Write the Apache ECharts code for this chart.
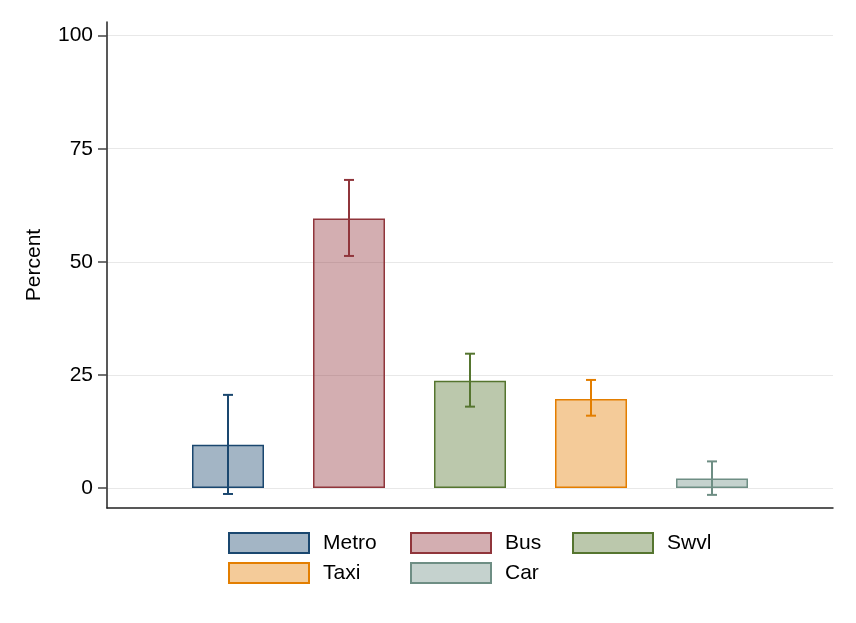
<!DOCTYPE html>
<html>
<head>
<meta charset="utf-8">
<script src="https://cdn.jsdelivr.net/npm/echarts@6/dist/echarts.min.js"></script>
<style>
  html, body { margin: 0; padding: 0; background: #fff; }
  #main { width: 856px; height: 623px; }
</style>
</head>
<body>
<div id="main"></div>
<script>
// data
var modes = ['Metro', 'Bus', 'Swvl', 'Taxi', 'Car'];
var positions = [1, 2, 3, 4, 5];
var percent = [9.6, 59.6, 23.7, 19.7, 2.1];
var ciLow = [-1.3, 51.3, 18.0, 16.0, -1.5];
var ciHigh = [20.6, 68.1, 29.7, 23.9, 5.9];
var yTicks = [0, 25, 50, 75, 100];

// stata s2color-ish palette
var strokes = ['#1a476f', '#90353b', '#55752f', '#e37e00', '#6e8e84'];
var fills = ['rgba(26,71,111,0.4)', 'rgba(144,53,59,0.4)', 'rgba(85,117,47,0.4)',
             'rgba(227,126,0,0.4)', 'rgba(110,142,132,0.4)'];

var chart = echarts.init(document.getElementById('main'));
var font = 'Arial, "Liberation Sans", sans-serif';

var series = modes.map(function (m, i) {
    return {
        name: m,
        type: 'bar',
        barWidth: 72,
        barGap: '-100%',
        itemStyle: { color: fills[i], borderColor: strokes[i], borderWidth: 1.5 },
        data: [[positions[i], percent[i]]],
        animation: false
    };
});

series.push({
    type: 'custom',
    z: 5,
    animation: false,
    data: positions.map(function (p, i) { return [p, ciLow[i], ciHigh[i]]; }),
    renderItem: function (params, api) {
        var x = api.value(0);
        var top = api.coord([x, api.value(2)]);
        var bot = api.coord([x, api.value(1)]);
        var c = strokes[params.dataIndex];
        var hw = 5;
        var st = { stroke: c, lineWidth: 2 };
        return {
            type: 'group',
            children: [
                { type: 'line', shape: { x1: top[0], y1: top[1], x2: bot[0], y2: bot[1] }, style: st },
                { type: 'line', shape: { x1: top[0] - hw, y1: top[1], x2: top[0] + hw, y2: top[1] }, style: st },
                { type: 'line', shape: { x1: bot[0] - hw, y1: bot[1], x2: bot[0] + hw, y2: bot[1] }, style: st }
            ]
        };
    }
});

function legendCol(left, names) {
    return {
        orient: 'vertical',
        left: left,
        top: 532,
        padding: 0,
        itemWidth: 80,
        itemHeight: 20,
        itemGap: 8,
        icon: 'rect',
        selectedMode: false,
        data: names,
        textStyle: { fontFamily: font, fontSize: 21, color: '#000', padding: [0, 0, 0, 9] }
    };
}

var option = {
    backgroundColor: '#fff',
    animation: false,
    grid: { left: 107, right: 23, top: 22, bottom: 115 },
    legend: [
        legendCol(228, ['Metro', 'Taxi']),
        legendCol(410, ['Bus', 'Car']),
        legendCol(572, ['Swvl'])
    ],
    xAxis: {
        type: 'value',
        min: 0,
        max: 6,
        axisLine: { show: true, onZero: false, lineStyle: { color: '#222', width: 1.5 } },
        axisTick: { show: false },
        axisLabel: { show: false },
        splitLine: { show: false }
    },
    yAxis: {
        type: 'value',
        min: -4.4,
        max: 103,
        name: 'Percent',
        nameLocation: 'middle',
        nameGap: 62,
        nameTextStyle: { fontFamily: font, fontSize: 21, color: '#000' },
        axisLine: { show: true, lineStyle: { color: '#222', width: 1.5 } },
        axisTick: { show: true, length: 9, customValues: yTicks, lineStyle: { color: '#444', width: 1.5 } },
        axisLabel: { customValues: yTicks, margin: 14, fontFamily: font, fontSize: 21, color: '#000' },
        splitLine: { show: true, lineStyle: { color: '#e8e8e8', width: 1 } }
    },
    series: series
};

chart.setOption(option);
</script>
</body>
</html>
